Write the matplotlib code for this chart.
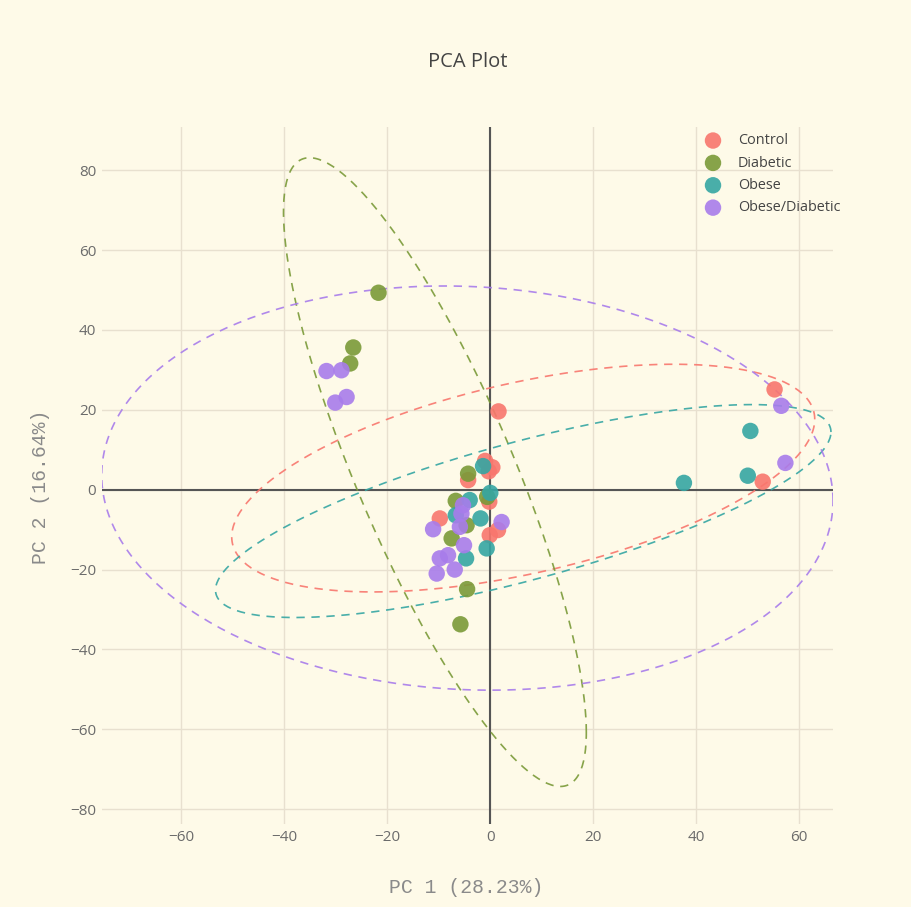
# PCA 散点图：四组样本，每组带一个虚线置信椭圆

import numpy as np
import matplotlib.pyplot as plt

# 各组样本的 PC1 / PC2 坐标
groups = ['Control', 'Diabetic', 'Obese', 'Obese/Diabetic']

control_pc1 = [1.6, -1.0, 0.4, -0.3, -4.3, -0.2, -9.8, -0.1, 1.5, 55.2, 52.9]
control_pc2 = [19.6, 7.2, 5.6, 4.6, 2.4, -3.0, -7.2, -11.4, -10.1, 25.1, 2.0]

diabetic_pc1 = [-21.7, -26.6, -27.2, -4.3, -0.6, -6.7, -4.6, -7.5, -4.5, -5.8]
diabetic_pc2 = [49.3, 35.6, 31.6, 4.0, -1.8, -2.8, -8.9, -12.2, -24.9, -33.7]

obese_pc1 = [-1.4, 0.0, -4.0, -6.7, -1.9, -0.7, -4.7, 50.5, 50.0, 37.6]
obese_pc2 = [5.9, -0.8, -2.6, -6.4, -7.2, -14.7, -17.2, 14.7, 3.5, 1.7]

obdia_pc1 = [-31.8, -28.9, -30.1, -27.9, -5.3, -11.1, -5.6, -5.9, 2.2,
             -5.1, -9.8, -8.2, -10.4, -6.9, 56.5, 57.3]
obdia_pc2 = [29.7, 29.9, 21.8, 23.2, -3.9, -9.9, -6.0, -9.3, -8.1,
             -13.9, -17.2, -16.4, -21.0, -20.0, 21.0, 6.7]

pc1 = [control_pc1, diabetic_pc1, obese_pc1, obdia_pc1]
pc2 = [control_pc2, diabetic_pc2, obese_pc2, obdia_pc2]

# 椭圆参数：中心、x 半宽、y 半高、相关系数
ell_cx = [6.4, -10.75, 6.4, -4.45]
ell_cy = [2.9, 4.4, -5.35, 0.4]
ell_w = [56.6, 29.4, 59.75, 71.0]
ell_h = [28.5, 78.7, 26.65, 50.6]
ell_r = [0.516, -0.828, 0.742, -0.063]

colors = ['#F8766D', '#7A9A38', '#35A6A3', '#A87CEB']
bg = '#FEFAE8'

fig = plt.figure(figsize=(9.12, 9.07), dpi=100, facecolor=bg)
ax = fig.add_axes([0.1115, 0.0915, 0.8019, 0.7685], facecolor=bg)

# 置信椭圆
t = np.linspace(0, 2 * np.pi, 300)
for i in range(len(groups)):
    r = ell_r[i]
    ex = ell_cx[i] + ell_w[i] * np.cos(t)
    ey = ell_cy[i] + ell_h[i] * (r * np.cos(t) + np.sqrt(1 - r * r) * np.sin(t))
    ax.plot(ex, ey, color=colors[i], lw=1.2, ls=(0, (5, 4)), alpha=0.9, zorder=2)

# 散点
for i, g in enumerate(groups):
    ax.scatter(pc1[i], pc2[i], s=140, color=colors[i], alpha=0.9,
               edgecolors='none', label=g, zorder=3)

# 零线和网格
ax.axhline(0, color='#555555', lw=1.5, zorder=1.5)
ax.axvline(0, color='#555555', lw=1.5, zorder=1.5)
ax.grid(True, color='#E8E0CF', lw=1, zorder=0)
ax.set_axisbelow(True)

ax.set_xlim(-75.45, 66.55)
ax.set_ylim(-83.7, 90.8)
ax.set_xticks([-60, -40, -20, 0, 20, 40, 60])
ax.set_yticks([-80, -60, -40, -20, 0, 20, 40, 60, 80])
for s in ax.spines.values():
    s.set_visible(False)
ax.tick_params(length=0, labelsize=11, labelcolor='#6b6b6b', pad=4)
for lab in ax.get_xticklabels() + ax.get_yticklabels():
    lab.set_fontfamily('Open Sans')

# 标题和坐标轴标题
fig.text(0.513, 0.932, 'PCA Plot', ha='center', va='center',
         fontsize=14.5, color='#444444', family='Open Sans')
fig.text(0.511, 0.021, 'PC 1 (28.23%)', ha='center', va='center',
         fontsize=14.2, color='#8a8a8a', family='Liberation Mono')
fig.text(0.044, 0.463, 'PC 2 (16.64%)', ha='center', va='center', rotation=90,
         fontsize=14.2, color='#8a8a8a', family='Liberation Mono')

# 图例
leg = ax.legend(loc='upper left', bbox_to_anchor=(0.7723, 0.853),
                bbox_transform=fig.transFigure, frameon=False,
                borderpad=0, borderaxespad=0, handlelength=1.2,
                handletextpad=1.13, labelspacing=0.51,
                prop={'family': 'Open Sans', 'size': 10.4})
for txt in leg.get_texts():
    txt.set_color('#444444')

fig.savefig('out.png', dpi=100, facecolor=bg)
